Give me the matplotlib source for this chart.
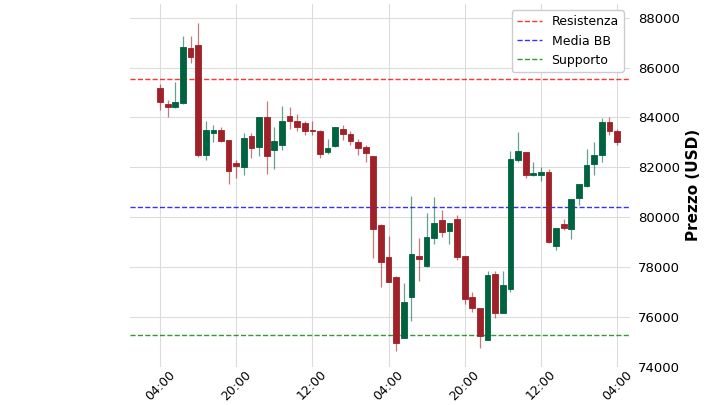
import matplotlib
matplotlib.use("Agg")
import matplotlib.pyplot as plt

opens  = [85180,84550,84400,84580,86780,86890,82480,83380,83510,83080,82170,82010,83270,82800,84020,82700,82880,84040,83870,83780,
          83510,83440,82610,82840,83550,83340,83000,82810,82440,79670,78390,77590,75150,76800,78450,78030,79160,79900,79460,79920,
          78450,76780,76330,75080,77720,76130,77120,82310,82610,81700,81680,81800,78830,79720,79540,80770,81260,82130,82480,83800,83470]
closes = [84600,84420,84620,86820,86410,82480,83510,83480,83070,81840,82040,83170,82770,84020,82440,83040,83840,83840,83620,83470,
          83440,82530,82770,83620,83340,83070,82770,82570,79540,78200,77390,74950,76580,78520,78300,79200,79760,79390,79760,78400,
          76720,76330,75220,77690,76130,77260,82340,82640,81680,81770,81800,78990,79560,79560,80730,81330,82080,82480,83800,83470,83030]
highs  = [85350,84710,85420,87250,87250,87790,83840,83710,83610,83100,82300,83370,83390,84020,84640,83600,84440,84400,84130,83850,
          83850,83500,83140,83620,83700,83450,83150,82900,82440,79720,79250,77630,77360,80830,79160,80170,80790,80300,79760,80100,
          78450,77000,76330,77850,77830,77830,82670,83410,82610,82210,82000,81930,78900,79920,80730,81330,82750,83000,83990,84000,83550]
lows   = [84300,84020,84360,84540,86200,82400,82290,83000,83000,81340,81560,81690,82370,82450,81730,81940,82710,83540,83450,83310,
          83300,82380,82540,82800,83100,82900,82500,82200,78340,77200,77390,74620,75150,75820,77430,78000,78930,79200,78900,78290,
          76490,76200,74750,75080,75950,76130,77000,82200,81570,81650,81440,78950,78670,79500,79100,80500,81200,81700,82200,83300,82900]
tick_pos = [0,10,20,30,40,50,60]
tick_labels = ["04:00","20:00","12:00","04:00","20:00","12:00","04:00"]
resistenza, media_bb, supporto = 85530, 80420, 75260

up, down = "#006340", "#a02128"
fig = plt.figure(figsize=(7.2,4.05), dpi=100)
ax = fig.add_axes([0.18,0.095,0.695,0.895])
for i,(o,c,h,l) in enumerate(zip(opens,closes,highs,lows)):
    col = up if c>=o else down
    ax.vlines(i, l, h, color=col, lw=0.9, alpha=0.6, zorder=2)
    ax.bar(i, abs(c-o) if abs(c-o)>30 else 60, bottom=min(o,c), width=0.75, color=col, edgecolor=col, lw=0.6, zorder=3)
ax.axhline(resistenza, color="red", ls="--", lw=1, label="Resistenza", alpha=0.8)
ax.axhline(media_bb, color="blue", ls="--", lw=1, label="Media BB", alpha=0.8)
ax.axhline(supporto, color="green", ls="--", lw=1, label="Supporto", alpha=0.8)
ax.set_xlim(-4, 61.7)
ax.set_ylim(74000, 88550)
ax.set_yticks(range(74000, 88001, 2000))
ax.yaxis.tick_right()
ax.yaxis.set_label_position("right")
ax.set_ylabel("Prezzo (USD)", fontsize=11, fontweight="bold")
ax.set_xticks(tick_pos)
ax.set_xticklabels(tick_labels, rotation=45)
ax.tick_params(axis="y", labelsize=9.5, length=0, pad=6)
ax.tick_params(axis="x", labelsize=9, length=0, pad=1)
for s in ax.spines.values(): s.set_visible(False)
ax.grid(True, color="#dcdcdc", ls="-", lw=0.8, zorder=0)
ax.set_axisbelow(True)
ax.legend(loc="upper right", fontsize=9, framealpha=1)
fig.savefig("out.png", dpi=100)
